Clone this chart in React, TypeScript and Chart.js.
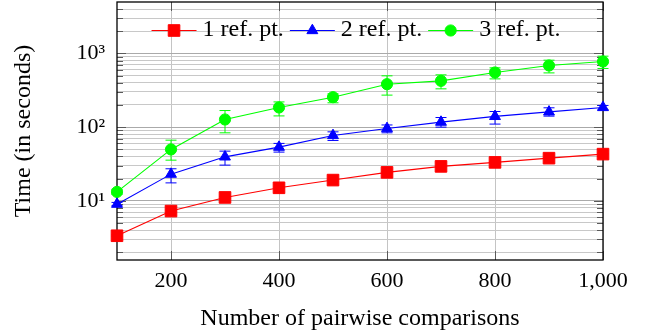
import React, { useEffect, useRef } from 'react';
import { Chart, registerables } from 'chart.js';

Chart.register(...registerables);

const xValues = [100, 200, 300, 400, 500, 600, 700, 800, 900, 1000];

const labels = ['1 ref. pt.', '2 ref. pt.', '3 ref. pt.'];

const oneRef = [3.35, 7.25, 11.1, 15.0, 19.1, 24.3, 29.3, 33.2, 37.9, 43.0];
const oneRefLow = [3.3, 7.0, 10.8, 14.6, 18.6, 23.7, 28.6, 32.4, 37.0, 42.0];
const oneRefHigh = [3.45, 7.5, 11.4, 15.4, 19.6, 24.9, 30.0, 34.0, 38.8, 44.0];

const twoRef = [9.0, 23.0, 39.5, 53.5, 77.1, 96, 117, 140, 161, 185];
const twoRefLow = [8.6, 17.5, 30.5, 45.8, 65.9, 83.8, 100, 110, 141, 172];
const twoRefHigh = [9.5, 27.2, 47.2, 60.1, 86.3, 107, 135, 163, 183, 197];

const threeRef = [13.2, 49.8, 127, 185, 255, 383, 425, 552, 687, 778];
const threeRefLow = [12.2, 35.6, 83.7, 142, 214, 272, 331, 452, 545, 626];
const threeRefHigh = [14.3, 66.5, 168, 220, 283, 497, 513, 638, 811, 919];

const colors = ['#ff0000', '#0000ff', '#00ff00'];
const markers = ['rect', 'triangle', 'circle'];

const xMin = 100;
const xMax = 1000;
const xTickValues = [200, 400, 600, 800, 1000];
const xTickLabels = ['200', '400', '600', '800', '1,000'];

const yMin = 1.57;
const yMax = 5000;
const yMajorValues = [10, 100, 1000];
const yMajorLabels = ['10¹', '10²', '10³'];
const yMinorValues = [
  2, 3, 4, 5, 6, 7, 8, 9,
  20, 30, 40, 50, 60, 70, 80, 90,
  200, 300, 400, 500, 600, 700, 800, 900,
  2000, 3000, 4000,
];

const xTitle = 'Number of pairwise comparisons';
const yTitle = 'Time (in seconds)';

const FONT = '"Liberation Serif", "Times New Roman", serif';

const seriesValues = [oneRef, twoRef, threeRef];
const seriesLow = [oneRefLow, twoRefLow, threeRefLow];
const seriesHigh = [oneRefHigh, twoRefHigh, threeRefHigh];

function drawMarker(ctx: CanvasRenderingContext2D, kind: string, x: number, y: number, color: string) {
  ctx.save();
  ctx.fillStyle = color;
  ctx.strokeStyle = color;
  ctx.lineWidth = 1;
  ctx.beginPath();
  if (kind === 'rect') {
    const s = 5.8;
    ctx.rect(x - s, y - s, 2 * s, 2 * s);
  } else if (kind === 'triangle') {
    const r = 6.3;
    for (let i = 0; i < 3; i++) {
      const a = (i * 2 * Math.PI) / 3;
      const px = x + Math.sin(a) * r;
      const py = y - Math.cos(a) * r;
      if (i === 0) ctx.moveTo(px, py);
      else ctx.lineTo(px, py);
    }
    ctx.closePath();
  } else {
    ctx.arc(x, y, 5.6, 0, Math.PI * 2);
  }
  ctx.fill();
  ctx.stroke();
  ctx.restore();
}

const framePlugin = {
  id: 'pgfFrame',
  beforeDatasetsDraw(chart: any) {
    const { ctx, chartArea } = chart;
    const xs = chart.scales.x;
    const ys = chart.scales.y;
    const { left, right, top, bottom } = chartArea;
    ctx.save();
    ctx.strokeStyle = '#5a5a5a';
    ctx.lineWidth = 1;
    // y tick marks
    for (const t of ys.ticks) {
      const yy = Math.round(ys.getPixelForValue(t.value)) + 0.5;
      const len = yMajorValues.includes(t.value) ? 9 : 6;
      ctx.beginPath();
      ctx.moveTo(left, yy);
      ctx.lineTo(left + len, yy);
      ctx.moveTo(right, yy);
      ctx.lineTo(right - len, yy);
      ctx.stroke();
    }
    // x tick marks
    for (const t of xs.ticks) {
      const xx = Math.round(xs.getPixelForValue(t.value)) + 0.5;
      ctx.beginPath();
      ctx.moveTo(xx, bottom);
      ctx.lineTo(xx, bottom - 9);
      ctx.moveTo(xx, top);
      ctx.lineTo(xx, top + 9);
      ctx.stroke();
    }
    // frame
    ctx.strokeStyle = '#000000';
    ctx.lineWidth = 1.3;
    ctx.strokeRect(left, top, right - left, bottom - top);

    // error bars
    ctx.lineWidth = 1;
    for (let s = 0; s < seriesValues.length; s++) {
      ctx.strokeStyle = colors[s];
      for (let i = 0; i < xValues.length; i++) {
        const px = xs.getPixelForValue(xValues[i]);
        const yl = ys.getPixelForValue(seriesLow[s][i]);
        const yh = ys.getPixelForValue(seriesHigh[s][i]);
        const cap = 5.5;
        ctx.beginPath();
        ctx.moveTo(px, yl);
        ctx.lineTo(px, yh);
        ctx.moveTo(px - cap, yl);
        ctx.lineTo(px + cap, yl);
        ctx.moveTo(px - cap, yh);
        ctx.lineTo(px + cap, yh);
        ctx.stroke();
      }
    }
    ctx.restore();
  },
  afterDatasetsDraw(chart: any) {
    const { ctx, chartArea } = chart;
    ctx.save();
    ctx.font = `24px ${FONT}`;
    const lineLen = 45;
    const gap = 6;
    const widths = labels.map((l) => ctx.measureText(l).width);
    const total = widths.reduce((a, w) => a + lineLen + gap + w, 0) + gap * (labels.length - 1);
    const cx = (chartArea.left + chartArea.right) / 2 - 4;
    let x = cx - total / 2;
    const y = chartArea.top + 28;
    for (let i = 0; i < labels.length; i++) {
      ctx.strokeStyle = colors[i];
      ctx.lineWidth = 1;
      ctx.beginPath();
      ctx.moveTo(x, y + 0.5);
      ctx.lineTo(x + lineLen, y + 0.5);
      ctx.stroke();
      drawMarker(ctx, markers[i], x + lineLen / 2, y + 0.5, colors[i]);
      ctx.fillStyle = '#000000';
      ctx.textBaseline = 'alphabetic';
      ctx.textAlign = 'left';
      ctx.fillText(labels[i], x + lineLen + gap, y + 6);
      x += lineLen + gap + widths[i] + gap;
    }
    ctx.restore();
  },
};

export default function App() {
  const canvasRef = useRef<HTMLCanvasElement | null>(null);

  useEffect(() => {
    document.body.style.margin = '0';
    const canvas = canvasRef.current;
    if (!canvas) return;

    const datasets = seriesValues.map((vals, s) => ({
      label: labels[s],
      data: xValues.map((x, i) => ({ x, y: vals[i] })),
      borderColor: colors[s],
      backgroundColor: colors[s],
      borderWidth: 1.1,
      pointStyle: markers[s],
      pointRadius: s === 0 ? 8.2 : s === 1 ? 6.3 : 5.6,
      pointBorderWidth: 1,
      pointBackgroundColor: colors[s],
      pointBorderColor: colors[s],
      tension: 0,
      clip: false as any,
    }));

    const chart = new Chart(canvas, {
      type: 'line',
      data: { datasets },
      plugins: [framePlugin],
      options: {
        animation: false,
        responsive: false,
        layout: { autoPadding: false, padding: { left: 0, right: 52, top: 2, bottom: 0 } },
        plugins: {
          legend: { display: false },
          tooltip: { enabled: false },
        },
        scales: {
          x: {
            type: 'linear',
            min: xMin,
            max: xMax,
            afterBuildTicks: (scale: any) => {
              scale.ticks = xTickValues.map((v) => ({ value: v }));
            },
            afterFit: (scale: any) => {
              scale.height = 73;
              scale.paddingLeft = 0;
              scale.paddingRight = 0;
            },
            ticks: {
              autoSkip: false,
              maxRotation: 0,
              padding: 8,
              color: '#000000',
              font: { family: FONT, size: 22 },
              callback: (value: any) => {
                const idx = xTickValues.indexOf(Number(value));
                return idx >= 0 ? xTickLabels[idx] : '';
              },
            },
            grid: {
              color: '#c4c4c4',
              lineWidth: 1,
              drawTicks: false,
            },
            border: { display: false },
            title: {
              display: true,
              text: xTitle,
              color: '#000000',
              font: { family: FONT, size: 24 },
              padding: { top: 0, bottom: 0 },
            },
          },
          y: {
            type: 'logarithmic',
            min: yMin,
            max: yMax,
            afterBuildTicks: (scale: any) => {
              const vals = [...yMinorValues, ...yMajorValues].sort((a, b) => a - b);
              scale.ticks = vals.map((v) => ({ value: v, major: yMajorValues.includes(v) }));
            },
            afterFit: (scale: any) => {
              scale.width = 117;
              scale.paddingTop = 0;
              scale.paddingBottom = 0;
            },
            ticks: {
              autoSkip: false,
              padding: 12,
              color: '#000000',
              font: { family: FONT, size: 22 },
              callback: (value: any) => {
                const idx = yMajorValues.indexOf(Number(value));
                return idx >= 0 ? yMajorLabels[idx] : '';
              },
            },
            grid: {
              color: (ctx: any) =>
                ctx.tick && yMajorValues.includes(ctx.tick.value) ? '#aaaaaa' : '#c8c8c8',
              lineWidth: 1,
              drawTicks: false,
            },
            border: { display: false },
            title: {
              display: true,
              text: yTitle,
              color: '#000000',
              font: { family: FONT, size: 24 },
              padding: { top: 9, bottom: 0 },
            },
          },
        },
      },
    });

    return () => {
      chart.destroy();
    };
  }, []);

  return (
    <div style={{ width: 655, height: 333, position: 'relative' }}>
      <canvas ref={canvasRef} width={655} height={333} style={{ display: 'block' }} />
    </div>
  );
}
